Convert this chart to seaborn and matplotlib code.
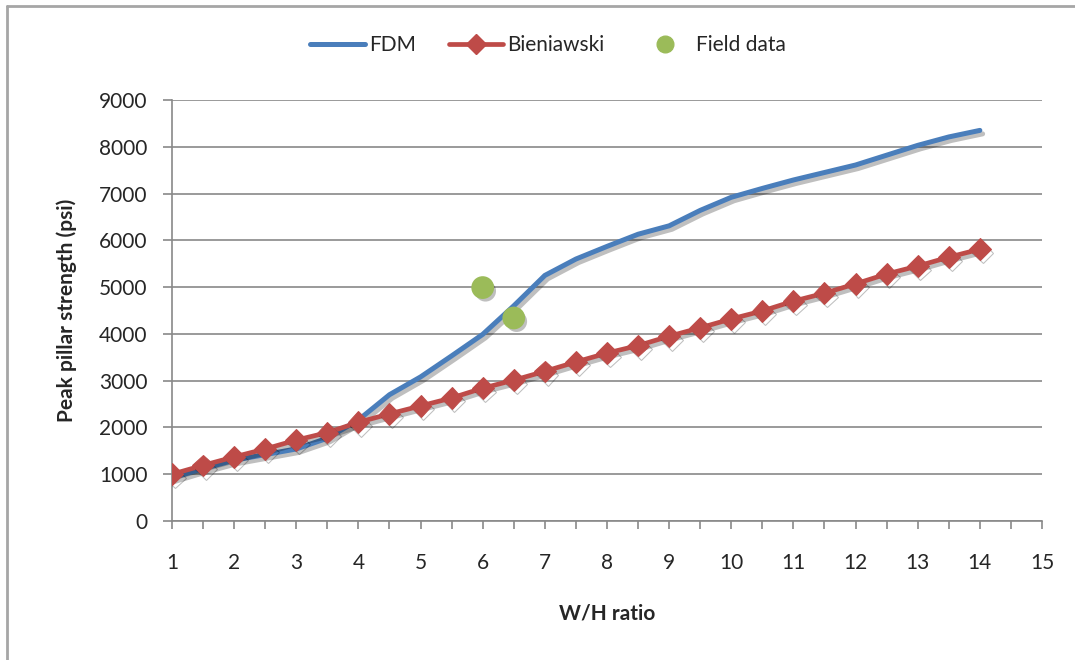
import numpy as np
import pandas as pd
import seaborn as sns
import matplotlib.pyplot as plt
import matplotlib.patheffects as pe
from matplotlib.lines import Line2D

# Datos
wh = [1, 1.5, 2, 2.5, 3, 3.5, 4, 4.5, 5, 5.5, 6, 6.5, 7, 7.5, 8, 8.5, 9,
      9.5, 10, 10.5, 11, 11.5, 12, 12.5, 13, 13.5, 14]
fdm = [920, 1120, 1300, 1420, 1540, 1770, 2160, 2700, 3080, 3530, 3990, 4600,
       5250, 5600, 5870, 6130, 6310, 6640, 6920, 7110, 7290, 7450, 7610, 7820,
       8030, 8210, 8350]
bieniawski = [1000, 1190, 1370, 1540, 1730, 1890, 2110, 2290, 2460, 2630, 2840,
              3010, 3200, 3400, 3590, 3750, 3950, 4130, 4320, 4490, 4700, 4870,
              5070, 5280, 5450, 5640, 5810]
campo_x = [6.0, 6.5]
campo_y = [4990, 4340]

x_ticks = list(range(1, 16))
y_ticks = list(range(0, 9001, 1000))

azul = "#4a7ebb"
rojo = "#be4b48"
verde = "#9bbb59"
gris = "#898989"

sns.set_style("white")
plt.rcParams["font.family"] = ["Lato", "DejaVu Sans"]

fig = plt.figure(figsize=(10.75, 6.6), dpi=100)
ax = fig.add_axes([0.16, 0.2106, 0.8093, 0.6379])

sombra_linea = [pe.SimpleLineShadow(offset=(2, -2.5), shadow_color="black", alpha=0.25), pe.Normal()]
sombra_punto = [pe.SimplePatchShadow(offset=(2, -2.5), shadow_rgbFace="black", alpha=0.25), pe.Normal()]

sns.lineplot(x=wh, y=fdm, ax=ax, color=azul, lw=3.6, path_effects=sombra_linea, zorder=3)
ln = sns.lineplot(x=wh, y=bieniawski, ax=ax, color=rojo, lw=3.4, marker="D", markersize=11,
                  markeredgecolor=rojo, zorder=4)
ln.lines[-1].set_path_effects(sombra_linea)
sns.scatterplot(x=campo_x, y=campo_y, ax=ax, color=verde, s=230, edgecolor=verde,
                zorder=5)
ax.collections[-1].set_path_effects(sombra_punto)

ax.set_xlim(1, 15)
ax.set_ylim(0, 9000)
ax.set_xticks(x_ticks)
ax.set_xticks(np.arange(1.5, 15, 1), minor=True)
ax.set_yticks(y_ticks)
ax.yaxis.grid(True, color=gris, lw=1.2)
ax.xaxis.grid(False)
ax.set_axisbelow(True)

for lado in ["top", "right"]:
    ax.spines[lado].set_visible(False)
for lado in ["left", "bottom"]:
    ax.spines[lado].set_color(gris)
    ax.spines[lado].set_linewidth(1.2)

ax.tick_params(axis="x", which="both", direction="out", length=6, width=1.2,
               color=gris, bottom=True)
ax.tick_params(axis="x", which="major", pad=17, labelsize=15, labelcolor="#262626")
ax.tick_params(axis="y", direction="out", length=6.5, width=1.2, color=gris,
               left=True, pad=11, labelsize=15, labelcolor="#262626")

ax.set_xlabel("W/H ratio", fontsize=15, fontweight="bold", labelpad=22)
ax.set_ylabel("Peak pillar strength (psi)", fontsize=15, fontweight="bold", labelpad=16)

handles = [
    Line2D([], [], color=azul, lw=3.6),
    Line2D([], [], color=rojo, lw=3.4, marker="D", markersize=10),
    Line2D([], [], color=verde, lw=0, marker="o", markersize=12),
]
fig.legend(handles, ["FDM", "Bieniawski", "Field data"], loc="center",
           bbox_to_anchor=(0.51, 0.932), ncol=3, frameon=False, fontsize=15,
           handlelength=2.6, handletextpad=0.2, columnspacing=1.6)

# marco exterior (solo arriba e izquierda visibles)
fig.add_artist(Line2D([0.0065, 1.0], [0.991, 0.991], color="#a6a6a6", lw=2,
                      transform=fig.transFigure))
fig.add_artist(Line2D([0.0065, 0.0065], [0.0, 0.991], color="#a6a6a6", lw=2,
                      transform=fig.transFigure))

fig.savefig("out.png", dpi=100)
